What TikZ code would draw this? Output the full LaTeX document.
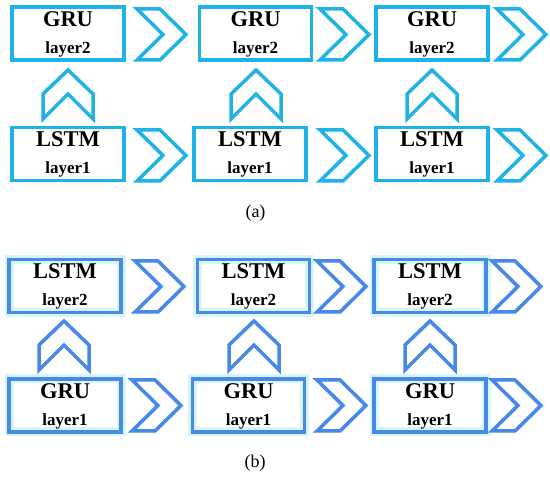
\documentclass[tikz,border=0pt]{standalone}
\usepackage{fontspec}
\setmainfont{Liberation Serif}
\definecolor{cola}{RGB}{30,178,230}
\definecolor{colb}{RGB}{72,136,232}
\definecolor{halo}{RGB}{212,246,252}
\tikzset{
  box/.style={draw, line width=3.5pt, minimum width=112pt, minimum height=53pt, inner sep=0pt},
  ttl/.style={font=\bfseries\fontsize{22.5}{22.5}\selectfont, anchor=base, inner sep=0pt},
  sub/.style={font=\bfseries\fontsize{17}{17}\selectfont, anchor=base, inner sep=0pt},
  captxt/.style={font=\fontsize{18}{18}\selectfont, inner sep=0pt},
  shp/.style={line width=3.5pt, line join=miter},
  rchev/.pic={\draw[shp, pic actions] (2,2) -- (25,2) -- (51,27.5) -- (25,53) -- (2,53) -- (28,27.5) -- cycle;},
  uchev/.pic={\draw[shp, pic actions] (2,51) -- (2,26) -- (27,2) -- (52,26) -- (52,51) -- (27,26) -- cycle;},
}
\begin{document}
\begin{tikzpicture}[x=1pt,y=-1pt]
\useasboundingbox (0,0) rectangle (550,478);
\fill[white] (0,0) rectangle (550,478);
% ---------- panel (a) ----------
\node[box, draw=cola] (a21) at (68,33.5) {};
\node[box, draw=cola] (a22) at (255.5,33.5) {};
\node[box, draw=cola] (a23) at (432,33.5) {};
\node[box, draw=cola] (a11) at (68,154) {};
\node[box, draw=cola] (a12) at (250,154) {};
\node[box, draw=cola] (a13) at (432,154) {};
\foreach \n/\t/\s in {a21/GRU/layer2, a22/GRU/layer2, a23/GRU/layer2, a11/LSTM/layer1, a12/LSTM/layer1, a13/LSTM/layer1}{
  \node[ttl] (\n t) at ([yshift=-21pt]\n.north) {\t};
  \node[sub] (\n s) at ([yshift=-48pt]\n.north) {\s};
}
\pic[draw=cola] at (135,7) {rchev};
\pic[draw=cola] at (318,7) {rchev};
\pic[draw=cola] at (495,7) {rchev};
\pic[draw=cola] at (135,128) {rchev};
\pic[draw=cola] at (318,128) {rchev};
\pic[draw=cola] at (495,128) {rchev};
\pic[draw=cola] at (41,68) {uchev};
\pic[draw=cola] at (229,68) {uchev};
\pic[draw=cola] at (405,68) {uchev};
\node[captxt] (capa) at (255.5,213) {(a)};
% ---------- panel (b) ----------
% halo underlay
\foreach \x/\y in {65/286, 253.5/286, 430/286, 65/405.5, 248.5/405.5, 430/405.5}{
  \draw[halo, line width=9pt] (\x-56,\y-26.5) rectangle (\x+56,\y+26.5);
}
\pic[draw=halo, line width=9pt] at (133,259) {rchev};
\pic[draw=halo, line width=9pt] at (315,259) {rchev};
\pic[draw=halo, line width=9pt] at (490,259) {rchev};
\pic[draw=halo, line width=9pt] at (130,378) {rchev};
\pic[draw=halo, line width=9pt] at (315,378) {rchev};
\pic[draw=halo, line width=9pt] at (490,378) {rchev};
\pic[draw=halo, line width=9pt] at (37,319) {uchev};
\pic[draw=halo, line width=9pt] at (227,319) {uchev};
\pic[draw=halo, line width=9pt] at (403,319) {uchev};
\node[box, draw=colb] (b21) at (65,286) {};
\node[box, draw=colb] (b22) at (253.5,286) {};
\node[box, draw=colb] (b23) at (430,286) {};
\node[box, draw=colb] (b11) at (65,405.5) {};
\node[box, draw=colb] (b12) at (248.5,405.5) {};
\node[box, draw=colb] (b13) at (430,405.5) {};
\foreach \n/\t/\s in {b21/LSTM/layer2, b22/LSTM/layer2, b23/LSTM/layer2, b11/GRU/layer1, b12/GRU/layer1, b13/GRU/layer1}{
  \node[ttl] (\n t) at ([yshift=-21pt]\n.north) {\t};
  \node[sub] (\n s) at ([yshift=-48pt]\n.north) {\s};
}
\pic[draw=colb] at (133,259) {rchev};
\pic[draw=colb] at (315,259) {rchev};
\pic[draw=colb] at (490,259) {rchev};
\pic[draw=colb] at (130,378) {rchev};
\pic[draw=colb] at (315,378) {rchev};
\pic[draw=colb] at (490,378) {rchev};
\pic[draw=colb] at (37,319) {uchev};
\pic[draw=colb] at (227,319) {uchev};
\pic[draw=colb] at (403,319) {uchev};
\node[captxt] (capb) at (255,463) {(b)};
\end{tikzpicture}
\end{document}
